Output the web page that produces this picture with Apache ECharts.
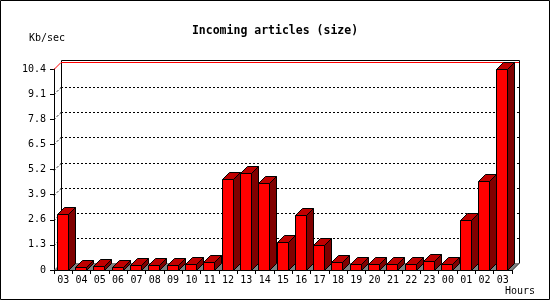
<!DOCTYPE html>
<html>
<head>
<meta charset="utf-8">
<script src="https://cdn.jsdelivr.net/npm/echarts@6/dist/echarts.min.js"></script>
<style>
html,body{margin:0;padding:0;background:#fff;}
#chart{width:550px;height:300px;}
</style>
</head>
<body>
<div id="chart"></div>
<script>
const categories = ['03','04','05','06','07','08','09','10','11','12','13','14','15','16','17','18','19','20','21','22','23','00','01','02','03'];
const sizeKbSec = [2.88,0.14,0.20,0.14,0.24,0.24,0.24,0.29,0.40,4.69,5.02,4.49,1.43,2.83,1.28,0.40,0.33,0.29,0.33,0.33,0.45,0.29,2.57,4.59,10.38];
const yTicks = [0,1.3,2.6,3.9,5.2,6.5,7.8,9.1,10.4];
const titleText = 'Incoming articles (size)';
const yUnit = 'Kb/sec';
const xUnit = 'Hours';

const D = 7;
const FONT = 'DejaVu Sans Mono';
const chart = echarts.init(document.getElementById('chart'), null, {renderer:'canvas'});

function renderFrame(params, api) {
  const cs = params.coordSys;
  const x0 = cs.x, x1 = cs.x + cs.width, yt = cs.y, yb = cs.y + cs.height;
  const topY = yt - D - 2;
  return {
    type: 'group',
    children: [
      {type:'polygon', shape:{points:[[x0,yb],[x1,yb],[x1+D,yb-D],[x0+D,yb-D]]}, style:{fill:'#808080'}},
      {type:'polyline', shape:{points:[[x0+D+0.5,yb-D],[x0+D+0.5,topY+0.5],[x1+D+0.5,topY+0.5],[x1+D+0.5,yb-D],[x1+0.5,yb]]}, style:{fill:null, stroke:'#000', lineWidth:1}}
    ]
  };
}

function renderGrid(params, api) {
  const cs = params.coordSys;
  const x0 = cs.x, x1 = cs.x + cs.width;
  const v = api.value(1);
  if (v === 0) return null;
  const y = Math.round(api.coord([0, v])[1]) + 0.5;
  const isMax = v === yTicks[yTicks.length - 1];
  const style = isMax ? {stroke:'#ff0000', lineWidth:1} : {stroke:'#000', lineWidth:1, lineDash:[2,2]};
  return {
    type: 'group',
    children: [
      {type:'line', shape:{x1:x0, y1:y, x2:x0+D, y2:y-D}, style: style},
      {type:'line', shape:{x1:x0+D, y1:y-D, x2:x1+D, y2:y-D}, style: style}
    ]
  };
}

function renderBar(params, api) {
  const i = api.value(0), v = api.value(1);
  const top = api.coord([i, v]);
  const base = api.coord([i, 0]);
  const w = Math.round(api.size([1, 0])[0] * 0.6);
  const xl = Math.round(top[0] - w / 2) - 0.5;
  const xr = xl + w;
  const yt = Math.round(top[1]) + 0.5;
  const yb = Math.round(base[1]) + 0.5;
  const st = {stroke:'#000', lineWidth:1};
  return {
    type: 'group',
    children: [
      {type:'polygon', shape:{points:[[xr,yt],[xr+D,yt-D],[xr+D,yb-D],[xr,yb]]}, style:Object.assign({fill:'#800000'}, st)},
      {type:'polygon', shape:{points:[[xl,yt],[xr,yt],[xr+D,yt-D],[xl+D,yt-D]]}, style:Object.assign({fill:'#c00000'}, st)},
      {type:'polygon', shape:{points:[[xl,yt],[xr,yt],[xr,yb],[xl,yb]]}, style:Object.assign({fill:'#ff0000'}, st)}
    ]
  };
}

const option = {
  animation: false,
  backgroundColor: '#ffffff',
  title: {
    text: titleText,
    left: 'center', top: 20,
    textStyle: {fontFamily: FONT, fontWeight: 'bold', fontSize: 11.5, color: '#000'}
  },
  graphic: [
    {type:'rect', shape:{x:0.5, y:0.5, width:549, height:299}, style:{fill:null, stroke:'#000', lineWidth:1}, z:100},
    {type:'text', left:29, top:33, style:{text:yUnit, font:'10px "DejaVu Sans Mono"', fill:'#000'}},
    {type:'text', left:505, top:286, style:{text:xUnit, font:'10px "DejaVu Sans Mono"', fill:'#000'}}
  ],
  grid: {left:54, right:38, top:69, bottom:30, containLabel:false},
  xAxis: {
    type: 'category',
    data: categories,
    boundaryGap: true,
    axisLine: {show:true, lineStyle:{color:'#000', width:1}},
    axisTick: {show:true, length:4, lineStyle:{color:'#000'}},
    axisLabel: {margin:5, color:'#000', fontFamily:FONT, fontSize:10, interval:0},
    splitLine: {show:false}
  },
  yAxis: {
    type: 'value',
    min: 0, max: 10.4, interval: 1.3,
    axisLine: {show:true, lineStyle:{color:'#000', width:1}},
    axisTick: {show:true, length:4, lineStyle:{color:'#000'}},
    axisLabel: {margin:8, color:'#000', fontFamily:FONT, fontSize:10,
      formatter: function(v){ return Math.abs(v) < 1e-9 ? '0' : v.toFixed(1); }},
    splitLine: {show:false}
  },
  series: [
    {type:'custom', name:'frame', renderItem: renderFrame, data:[[0,0]], clip:false, z:1, silent:true},
    {type:'custom', name:'grid', renderItem: renderGrid, data: yTicks.map(function(t){return [0,t];}), clip:false, z:2, silent:true},
    {type:'custom', name:'size', renderItem: renderBar, data: sizeKbSec.map(function(v,i){return [i,v];}), clip:false, z:3}
  ]
};
chart.setOption(option);
</script>
</body>
</html>
